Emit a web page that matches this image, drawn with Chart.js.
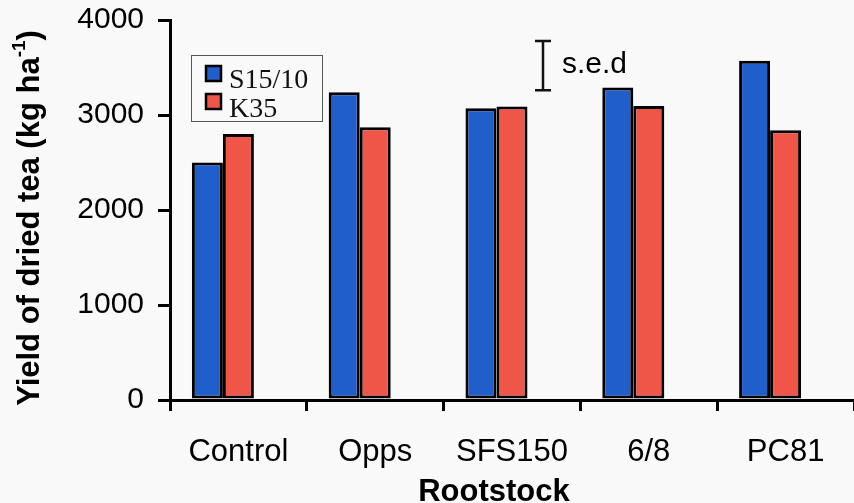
<!DOCTYPE html>
<html>
<head>
<meta charset="utf-8">
<title>Yield of dried tea by rootstock</title>
<script src="https://cdn.jsdelivr.net/npm/chart.js@4.4.1/dist/chart.umd.min.js"></script>
<style>
  html, body { margin: 0; padding: 0; background: #f9f9f9; }
  #wrap { width: 854px; height: 503px; }
</style>
</head>
<body>
<div id="wrap"><canvas id="yieldChart" width="854" height="503"></canvas></div>
<script>
/* ---- data ---- */
const rootstocks = ['Control', 'Opps', 'SFS150', '6/8', 'PC81'];
const s15Yield = [2500, 3240, 3070, 3290, 3570];
const k35Yield = [2800, 2870, 3090, 3095, 2840];
const yTicks = [0, 1000, 2000, 3000, 4000];
const sedValue = 520;     // standard error of difference
const sedCentre = 3520;   // where the s.e.d bar sits on the y scale

const BLUE = '#1f5ecb';
const RED = '#ef5648';
const SANS = "'Liberation Sans', Arial, sans-serif";
const SERIF = "'Liberation Serif', 'Times New Roman', serif";

/* Titles, legend box and s.e.d marker */
const decorations = {
  id: 'decorations',
  afterDraw(chart){
    const ctx = chart.ctx;
    const y = chart.scales.y;
    ctx.save();
    ctx.fillStyle = '#000';

    // y-axis title, rotated, with superscript
    ctx.translate(39, 218);
    ctx.rotate(-Math.PI/2);
    const main = 'Yield of dried tea (kg ha';
    const sup = '-1';
    const close = ')';
    ctx.font = 'bold 31px ' + SANS;
    const wMain = ctx.measureText(main).width;
    const wClose = ctx.measureText(close).width;
    ctx.font = 'bold 19px ' + SANS;
    const wSup = ctx.measureText(sup).width;
    let x0 = -(wMain + wSup + wClose) / 2;
    ctx.textBaseline = 'alphabetic';
    ctx.font = 'bold 31px ' + SANS;
    ctx.fillText(main, x0, 0);
    ctx.font = 'bold 19px ' + SANS;
    ctx.fillText(sup, x0 + wMain, -14);
    ctx.font = 'bold 31px ' + SANS;
    ctx.fillText(close, x0 + wMain + wSup, 0);
    ctx.restore();

    // x-axis title
    ctx.save();
    ctx.fillStyle = '#000';
    ctx.font = 'bold 31px ' + SANS;
    ctx.textAlign = 'center';
    ctx.textBaseline = 'alphabetic';
    ctx.fillText('Rootstock', 494, 501);
    ctx.restore();

    // legend box
    ctx.save();
    ctx.strokeStyle = '#555';
    ctx.lineWidth = 1;
    ctx.strokeRect(191.5, 55.5, 131, 66);
    const items = [[BLUE, 'S15/10', 65, 88], [RED, 'K35', 93, 117]];
    ctx.font = '28px ' + SERIF;
    ctx.textBaseline = 'alphabetic';
    for (const [col, label, top, base] of items){
      ctx.fillStyle = col;
      ctx.fillRect(205, top, 17, 17);
      ctx.strokeStyle = '#000';
      ctx.lineWidth = 2.5;
      ctx.strokeRect(206, top + 1, 15, 15);
      ctx.fillStyle = '#111';
      ctx.fillText(label, 229, base);
    }
    ctx.restore();

    // s.e.d bar
    const yTop = y.getPixelForValue(sedCentre + sedValue / 2);
    const yBot = y.getPixelForValue(sedCentre - sedValue / 2);
    const bx = 543;
    ctx.save();
    ctx.strokeStyle = '#111';
    ctx.lineWidth = 2.5;
    ctx.beginPath();
    ctx.moveTo(bx, yTop); ctx.lineTo(bx, yBot);
    ctx.moveTo(bx - 8, yTop); ctx.lineTo(bx + 8, yTop);
    ctx.moveTo(bx - 8, yBot); ctx.lineTo(bx + 8, yBot);
    ctx.stroke();
    ctx.fillStyle = '#000';
    ctx.font = '30px ' + SANS;
    ctx.textBaseline = 'alphabetic';
    ctx.fillText('s.e.d', 562, 73);
    ctx.restore();
  }
};

const ctx = document.getElementById('yieldChart').getContext('2d');
new Chart(ctx, {
  type: 'bar',
  data: {
    labels: rootstocks,
    datasets: [
      { label: 'S15/10', data: s15Yield, backgroundColor: BLUE, borderColor: '#000', borderWidth: 3 },
      { label: 'K35', data: k35Yield, backgroundColor: RED, borderColor: '#000', borderWidth: 3 },
      // empty slot so each pair sits left of the category centre
      { label: '', data: rootstocks.map(() => null), backgroundColor: 'rgba(0,0,0,0)' }
    ]
  },
  options: {
    responsive: false,
    animation: false,
    layout: { padding: 0 },
    datasets: { bar: { categoryPercentage: 0.68, barPercentage: 1.0, borderSkipped: false } },
    plugins: { legend: { display: false }, tooltip: { enabled: false } },
    scales: {
      x: {
        afterFit(scale){ scale.height = 103; scale.paddingRight = 0; },
        grid: { offset: true, drawOnChartArea: false, drawTicks: true, tickLength: 11, color: '#000', lineWidth: 3 },
        border: { display: true, color: '#000', width: 3 },
        ticks: { color: '#000', font: { family: SANS, size: 31 }, padding: 23, maxRotation: 0 }
      },
      y: {
        min: 0,
        max: 4000,
        afterFit(scale){ scale.width = 170; scale.paddingTop = 20; scale.paddingBottom = 0; },
        afterBuildTicks(scale){ scale.ticks = yTicks.map(v => ({ value: v })); },
        grid: { drawOnChartArea: false, drawTicks: true, tickLength: 12, color: '#000', lineWidth: 3 },
        border: { display: true, color: '#000', width: 3 },
        ticks: { color: '#000', font: { family: SANS, size: 30 }, padding: 14, callback: v => String(v) }
      }
    }
  },
  plugins: [decorations]
});
</script>
</body>
</html>
